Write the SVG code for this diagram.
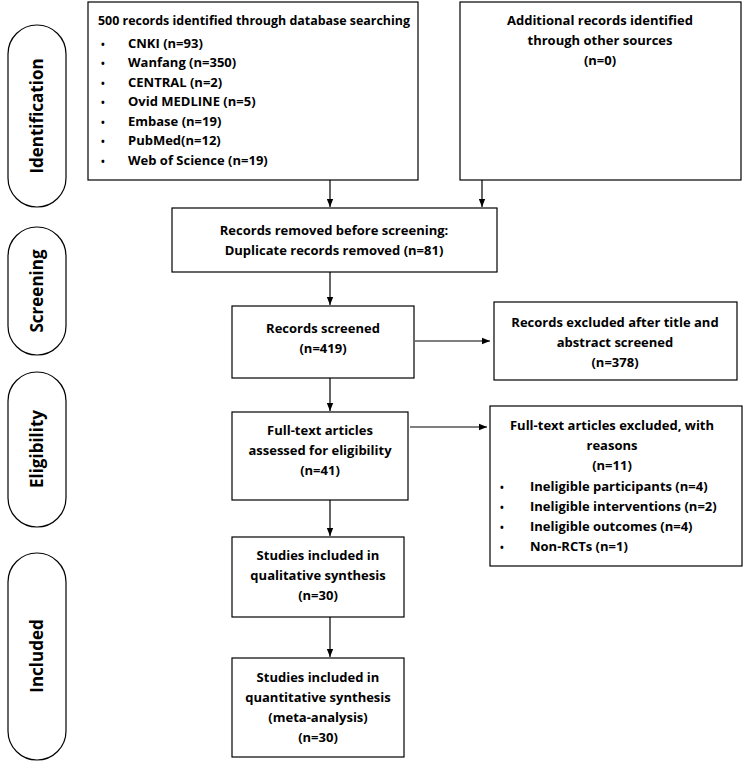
<svg xmlns="http://www.w3.org/2000/svg" width="751" height="782" viewBox="0 0 751 782">
<style>
text{font-family:"Open Sans","Liberation Sans",sans-serif;font-weight:bold;font-size:13px;fill:#000}
.b{fill:#fff;stroke:#000;stroke-width:1.2}
.p{fill:#fff;stroke:#000;stroke-width:1.2}
.ph{font-size:17px}
.c{text-anchor:middle}
.d{font-size:10px}
.e line{stroke:#000;stroke-width:1.2;marker-end:url(#a)}
</style>
<defs><marker id="a" viewBox="0 0 10 10" refX="10" refY="5" markerWidth="7" markerHeight="7" orient="auto"><path d="M0,1L10,5L0,9z" fill="#000"/></marker></defs>
<rect width="751" height="782" fill="#fff"/>
<g id="phase-identification"><rect class="p" x="8" y="25" width="58" height="182" rx="29"/><text class="ph c" transform="translate(43,116) rotate(-90)">Identification</text></g>
<g id="phase-screening"><rect class="p" x="8" y="227" width="58" height="128" rx="29"/><text class="ph c" transform="translate(43,291) rotate(-90)">Screening</text></g>
<g id="phase-eligibility"><rect class="p" x="8" y="372" width="58" height="155" rx="29"/><text class="ph c" transform="translate(43,449) rotate(-90)">Eligibility</text></g>
<g id="phase-included"><rect class="p" x="8" y="553" width="58" height="207" rx="29"/><text class="ph c" transform="translate(43,656) rotate(-90)">Included</text></g>
<g id="n-db"><rect class="b" x="88" y="2" width="330" height="178"/>
<text x="98" y="25" textLength="312" lengthAdjust="spacingAndGlyphs">500 records identified through database searching</text>
<text class="d" x="101" y="48">•</text><text x="128" y="48">CNKI (n=93)</text>
<text class="d" x="101" y="67">•</text><text x="128" y="67">Wanfang (n=350)</text>
<text class="d" x="101" y="87">•</text><text x="128" y="87">CENTRAL (n=2)</text>
<text class="d" x="101" y="106">•</text><text x="128" y="106">Ovid MEDLINE (n=5)</text>
<text class="d" x="101" y="126">•</text><text x="128" y="126">Embase (n=19)</text>
<text class="d" x="101" y="145">•</text><text x="128" y="145">PubMed(n=12)</text>
<text class="d" x="101" y="165">•</text><text x="128" y="165">Web of Science (n=19)</text></g>
<g id="n-other"><rect class="b" x="460" y="2" width="281" height="178"/>
<text class="c" x="600" y="25">Additional records identified</text>
<text class="c" x="600" y="45">through other sources</text>
<text class="c" x="600" y="65">(n=0)</text></g>
<g id="n-dup"><rect class="b" x="172" y="208" width="325" height="64"/>
<text class="c" x="334" y="235">Records removed before screening:</text>
<text class="c" x="334" y="255">Duplicate records removed (n=81)</text></g>
<g id="n-screened"><rect class="b" x="232" y="306" width="182" height="72"/>
<text class="c" x="323" y="333">Records screened</text>
<text class="c" x="323" y="353">(n=419)</text></g>
<g id="n-excl1"><rect class="b" x="494" y="302" width="243" height="78"/>
<text class="c" x="615" y="327">Records excluded after title and</text>
<text class="c" x="615" y="347">abstract screened</text>
<text class="c" x="615" y="367">(n=378)</text></g>
<g id="n-fulltext"><rect class="b" x="232" y="412" width="176" height="88"/>
<text class="c" x="320" y="435">Full-text articles</text>
<text class="c" x="320" y="455">assessed for eligibility</text>
<text class="c" x="320" y="475">(n=41)</text></g>
<g id="n-excl2"><rect class="b" x="490" y="406" width="252" height="160"/>
<text class="c" x="612" y="430">Full-text articles excluded, with</text>
<text class="c" x="612" y="450">reasons</text>
<text class="c" x="612" y="470">(n=11)</text>
<text class="d" x="500" y="491">•</text><text x="530" y="491">Ineligible participants (n=4)</text>
<text class="d" x="500" y="511">•</text><text x="530" y="511">Ineligible interventions (n=2)</text>
<text class="d" x="500" y="531">•</text><text x="530" y="531">Ineligible outcomes (n=4)</text>
<text class="d" x="500" y="551">•</text><text x="530" y="551">Non-RCTs (n=1)</text></g>
<g id="n-qual"><rect class="b" x="232" y="537" width="172" height="80"/>
<text class="c" x="318" y="560">Studies included in</text>
<text class="c" x="318" y="580">qualitative synthesis</text>
<text class="c" x="318" y="600">(n=30)</text></g>
<g id="n-quant"><rect class="b" x="232" y="658" width="172" height="99"/>
<text class="c" x="318" y="682">Studies included in</text>
<text class="c" x="318" y="702">quantitative synthesis</text>
<text class="c" x="318" y="722">(meta-analysis)</text>
<text class="c" x="318" y="742">(n=30)</text></g>
<g id="connectors" class="e">
<line x1="330" y1="180" x2="330" y2="207"/>
<line x1="482" y1="180" x2="482" y2="207"/>
<line x1="330" y1="272" x2="330" y2="305"/>
<line x1="330" y1="378" x2="330" y2="411"/>
<line x1="330" y1="500" x2="330" y2="536"/>
<line x1="330" y1="617" x2="330" y2="657"/>
<line x1="415" y1="341" x2="490" y2="341"/>
<line x1="410" y1="427" x2="487" y2="427"/>
</g>
</svg>
